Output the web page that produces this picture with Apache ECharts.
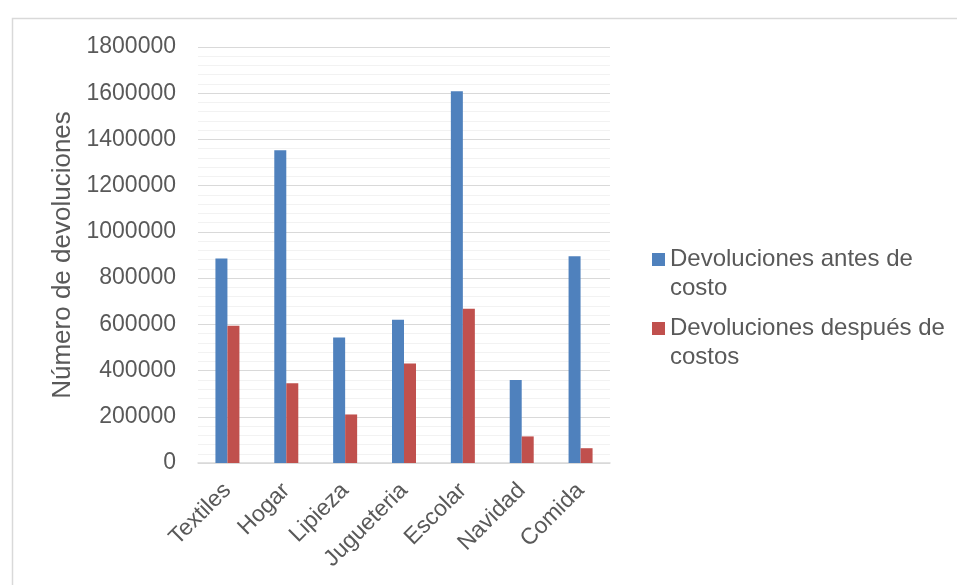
<!DOCTYPE html>
<html>
<head>
<meta charset="utf-8">
<script src="https://cdn.jsdelivr.net/npm/echarts@6/dist/echarts.min.js"></script>
<style>
	html, body { margin: 0; padding: 0; background: #fff; }
	#chart { width: 957px; height: 585px; }
</style>
</head>
<body>
<div id="chart"></div>
<script>
var categorias = ['Textiles', 'Hogar', 'Lipieza', 'Jugueteria', 'Escolar', 'Navidad', 'Comida'];
var antesCosto = [885000, 1353000, 543000, 620000, 1608000, 359000, 895000];
var despuesCosto = [594000, 345000, 210000, 430000, 667000, 115000, 64000];
var nombres = ['Devoluciones antes de costo', 'Devoluciones después de costos'];

var txt = '#595959';
var box = document.getElementById('chart');
var chart = echarts.init(box);
// icono cuadrado arriba de una caja alta, para que quede junto a la primera linea
var iconoLeyenda = 'path://M0,0H13V13H0Z M0,42';
var option = {
	animation: false,
	textStyle: {
		fontFamily: 'Liberation Sans, Arial, sans-serif'
	},
	graphic: [{
		type: 'rect',
		left: 10,
		top: 16,
		shape: { width: 980, height: 600 },
		style: { fill: 'none', stroke: '#D9D9D9', lineWidth: 1.5 },
		silent: true
	}],
	grid: {
		left: 198,
		right: 347,
		top: 47,
		bottom: 122
	},
	legend: {
		orient: 'vertical',
		left: 647,
		top: 240,
		itemWidth: 13,
		itemHeight: 42,
		itemGap: 11,
		icon: iconoLeyenda,
		data: nombres,
		formatter: function(name) {
			return name.replace(/ (\S+)$/, '\n$1');
		},
		textStyle: {
			color: txt,
			fontSize: 24,
			lineHeight: 29
		}
	},
	xAxis: {
		type: 'category',
		data: categorias,
		axisTick: { show: false },
		axisLine: { lineStyle: { color: '#D9D9D9', width: 1.5 } },
		axisLabel: {
			color: txt,
			fontSize: 23,
			rotate: 45,
			margin: 24,
			interval: 0
		}
	},
	yAxis: {
		type: 'value',
		min: 0,
		max: 1800000,
		interval: 200000,
		name: 'Número de devoluciones',
		nameLocation: 'middle',
		nameRotate: 90,
		nameGap: 122,
		nameTextStyle: { color: txt, fontSize: 26 },
		axisLine: { show: false },
		axisTick: { show: false },
		axisLabel: {
			color: txt,
			fontSize: 23,
			margin: 22,
			formatter: function(v) { return String(v); }
		},
		splitLine: { lineStyle: { color: '#D9D9D9', width: 1 } },
		minorTick: { show: false, splitNumber: 5 },
		minorSplitLine: { show: true, lineStyle: { color: '#F2F2F2', width: 1 } }
	},
	series: [{
		name: nombres[0],
		type: 'bar',
		data: antesCosto,
		barWidth: 12,
		barGap: '0%',
		itemStyle: { color: '#4F81BD' }
	}, {
		name: nombres[1],
		type: 'bar',
		data: despuesCosto,
		barWidth: 12,
		itemStyle: { color: '#C0504D' }
	}]
};
chart.setOption(option);
</script>
</body>
</html>
